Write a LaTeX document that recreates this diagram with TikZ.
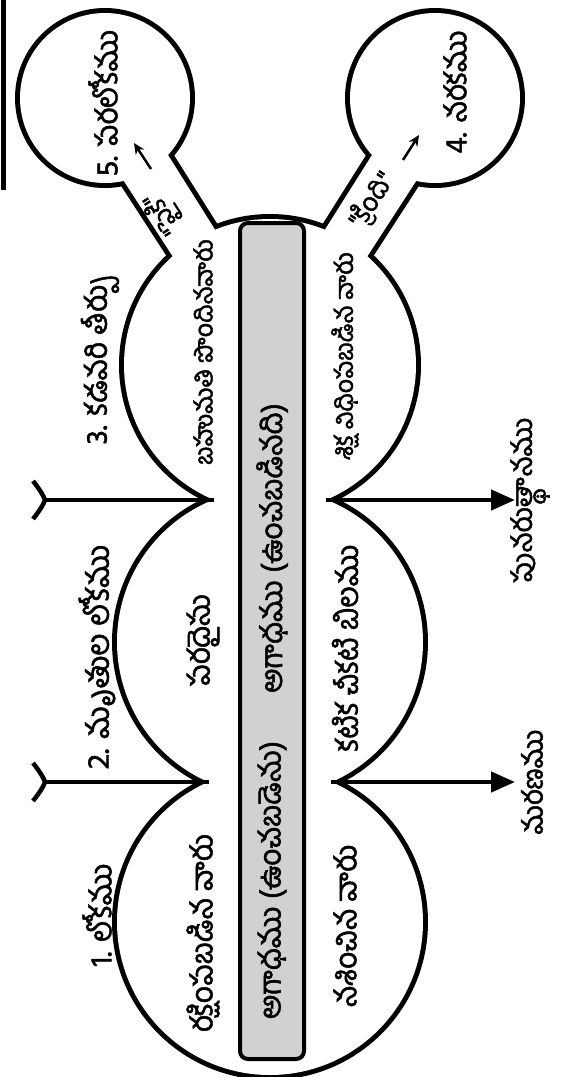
\documentclass[tikz,border=0pt]{standalone}
\usepackage{fontspec}
\newfontfamily\te[Script=Telugu,FakeBold=1.6]{Hind Guntur}
\usetikzlibrary{arrows.meta,calc}
\definecolor{barfill}{gray}{0.82}
\begin{document}
\begin{tikzpicture}[x=1pt,y=-1pt,
  allshapes/.style={insert path={
    (270,922) circle[radius=153]
    (270,642) circle[radius=153]
    (270,365) circle[radius=146]
    (105,98) circle[radius=85]
    (435,98) circle[radius=85]
    (107,155) -- (151,128) -- (231,255) -- (188,280) -- cycle
    (433,155) -- (352,280) -- (309,255) -- (389,128) -- cycle}},
  telbase/.style={font=\te\fontsize{#1}{#1}\selectfont, inner sep=0pt},
  telbase/.default=30,
  tel/.style={telbase=#1, rotate=90},
  tel/.default=30,
  marker/.style={line width=4.5pt},
  fork/.style={line width=4.5pt},
  bigarrow/.style={line width=4.5pt, -{Triangle[length=24pt,width=20pt]}},
  bandarrow/.style={line width=2.5pt, -{Stealth[length=11pt,width=10pt]}}
]
\useasboundingbox (0,0) rectangle (567,1077);
% page edge
\draw[line width=5pt] (3,0) -- (3,190);
% outline of the union of shapes
\draw[line width=10pt, allshapes];
\fill[white, nonzero rule, allshapes];
% shaded bar
\node[draw, line width=4pt, fill=barfill, rounded corners=8pt,
      minimum width=64pt, minimum height=836pt, inner sep=0pt] (bar) at (272,641) {};
% cusp coordinates
\coordinate (cL12) at (209,782);
\coordinate (cR12) at (331,782);
\coordinate (cL23) at (214,500);
\coordinate (cR23) at (326,500);
\coordinate (capA) at (44,500);
\coordinate (capB) at (44,782);
\coordinate (tipA) at (515,500);
\coordinate (tipB) at (515,782);
% left markers
\draw[marker] (capA) -- (cL23);
\draw[marker] (capB) -- (cL12);
\foreach \c in {capA,capB}{
  \draw[fork] ($(\c)+(-11,-19)$) .. controls ($(\c)+(-3,-9)$) and ($(\c)+(0,-3)$) .. ($(\c)+(1,0)$)
        .. controls ($(\c)+(0,3)$) and ($(\c)+(-3,9)$) .. ($(\c)+(-11,19)$);
}
% right arrows
\draw[bigarrow] (cR23) -- (tipA);
\draw[bigarrow] (cR12) -- (tipB);
% band arrows
\coordinate (ua1) at (151,169);
\coordinate (ua2) at (134,143);
\coordinate (da1) at (403,160);
\coordinate (da2) at (419,135);
\draw[bandarrow] (ua1) -- (ua2);
\draw[bandarrow] (da1) -- (da2);
% texts
\node[tel] (t1) at (97,915) {1. లోకము};
\node[tel=31] (t2) at (97,657) {2. మృతుల లోకము};
\node[tel] (t3) at (100,360) {3. కడవరి తీర్పు};
\node[tel] (s1) at (203,933) {రక్షింపబడిన వారు};
\node[tel] (s2) at (203,640) {పరదైసు};
\node[tel=25] (s3) at (203,352) {బహుమతి పొందినవారు};
\node[tel] (l1) at (345,926) {నశించిన వారు};
\node[tel] (l2) at (345,648) {కటిక చీకటి బిలము};
\node[tel=25] (l3) at (345,356) {శిక్ష విధింపబడిన వారు};
\node[tel] (g1) at (272,880) {అగాధము (ఉంచబడెను)};
\node[tel] (g2) at (272,548) {అగాధము (ఉంచబడినది)};
\node[tel] (h5) at (103,103) {5. పరలోకము};
\node[tel] (h4) at (455,92) {4. నరకము};
\node[telbase=26, rotate=123] (up) at (163,213) {"పైకి"};
\node[telbase=26, rotate=57] (down) at (372,200) {"క్రింది"};
\node[tel=28] (death) at (532,782) {మరణము};
\node[tel=28] (res) at (530,500) {పునరుత్థానము};
\end{tikzpicture}
\end{document}
